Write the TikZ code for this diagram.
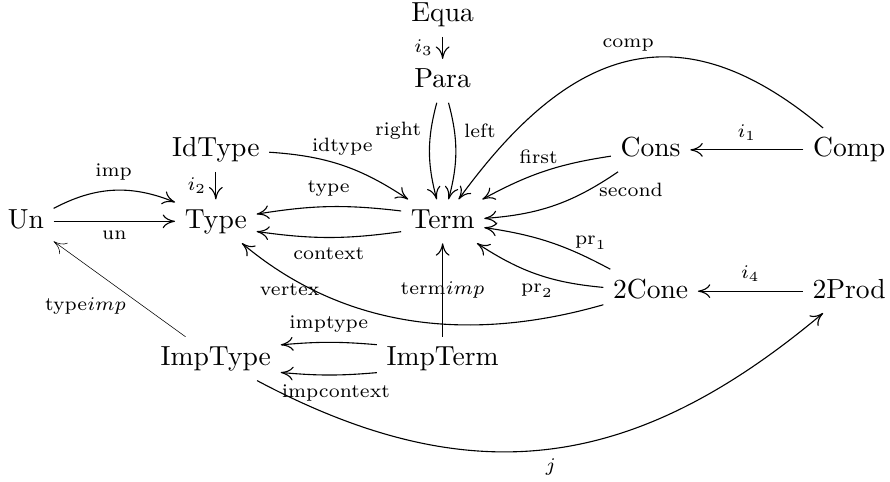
\documentclass[tikz,border=0pt]{standalone}
\usepackage{tikz}
\usetikzlibrary{arrows.meta}

\tikzset{
  obj/.style={text height=1.6ex, text depth=0.45ex},
  lab/.style={font=\scriptsize},
  arr/.style={-{To[length=4.5pt, width=5pt]}},
}

\begin{document}
\begin{tikzpicture}
  \useasboundingbox (0,0) rectangle (11.34,6.14);

  % --- objects ---
  \node[obj] (equa) at (5.64,5.95) {Equa};
  \node[obj] (para) at (5.64,5.11) {Para};
  \node[obj] (idtype) at (2.75,4.23) {IdType};
  \node[obj] (cons) at (8.29,4.23) {Cons};
  \node[obj] (comp) at (10.82,4.23) {Comp};
  \node[obj] (un) at (0.33,3.32) {Un};
  \node[obj] (type) at (2.75,3.32) {Type};
  \node[obj] (term) at (5.64,3.32) {Term};
  \node[obj] (cone) at (8.29,2.43) {2Cone};
  \node[obj] (prod) at (10.82,2.43) {2Prod};
  \node[obj] (imptype) at (2.75,1.57) {ImpType};
  \node[obj] (impterm) at (5.64,1.57) {ImpTerm};

  % --- top part ---
  \draw[arr] (equa) -- node[lab,left]{$i_3$} (para);
  \draw[arr] (para) to[bend right=15] node[lab,left,pos=0.28]{right} (term);
  \draw[arr] (para) to[bend left=15] node[lab,right,pos=0.28]{left} (term);
  \draw[arr] (idtype) -- node[lab,left]{$i_2$} (type);
  \draw[arr] (idtype) to[bend left=15] node[lab,above]{idtype} (term);
  \draw[arr] (comp) -- node[lab,above]{$i_1$} (cons);
  \draw[arr] (comp) to[out=140, in=54, looseness=1.3] node[lab,above,pos=0.5]{comp} (term);
  \draw[arr] (cons) to[bend right=10] node[lab,above,pos=0.55]{first} (term);
  \draw[arr] (cons) to[bend left=15] node[lab,below,pos=0.02,xshift=2mm]{second} (term);

  % --- middle row ---
  \draw[arr] (un) to[bend left=25] node[lab,above]{imp} (type);
  \draw[arr] (un) -- node[lab,below]{un} (type);
  \draw[arr] (term.166) to[bend right=8] node[lab,above]{type} (type.10);
  \draw[arr] (term.194) to[bend left=8] node[lab,below]{context} (type.-14);

  % --- cones ---
  \draw[arr] (prod) -- node[lab,above]{$i_4$} (cone);
  \draw[arr] (cone) to[bend right=10] node[lab,above,pos=0.15]{$\mathrm{pr}_1$} (term);
  \draw[arr] (cone) to[bend left=14] node[lab,below]{$\mathrm{pr}_2$} (term);
  \draw[arr] (cone) to[out=196, in=-40, looseness=0.95] node[lab,left,pos=0.735,yshift=1mm]{vertex} (type);

  % --- bottom part ---
  \draw[arr] (impterm) -- node[lab]{term$imp$} (term);
  \draw[arr] (impterm.168) to[bend right=5] node[lab,above]{imptype} (imptype.12);
  \draw[arr] (impterm.192) to[bend left=5] node[lab,below,pos=0.42]{impcontext} (imptype.-12);
  \draw[arr, very thin] (imptype) -- node[lab,left=1mm,pos=0.32]{type$imp$} (un);
  \draw[arr] (imptype) to[out=-28, in=-140, looseness=1.1] node[lab,below]{$j$} (prod);
\end{tikzpicture}
\end{document}
